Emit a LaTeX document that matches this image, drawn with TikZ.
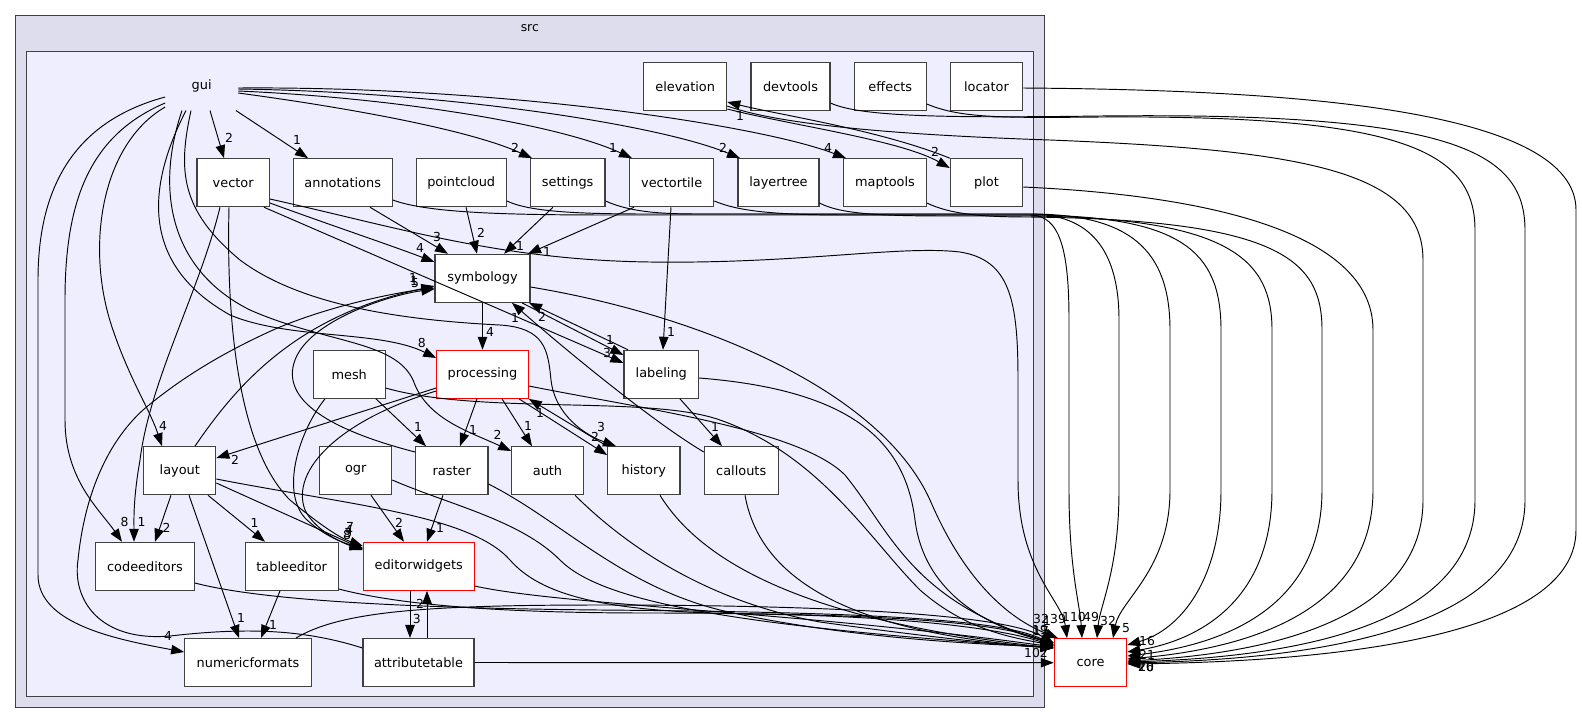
\documentclass[tikz,border=0pt]{standalone}
\usepackage{fontspec}
\setmainfont{DejaVu Sans}
\usepackage{tikz}
\usetikzlibrary{arrows.meta}

\definecolor{boxgray}{HTML}{404040}
\definecolor{srcfill}{HTML}{DDDDEE}
\definecolor{guifill}{HTML}{EEEEFF}

\tikzset{
  dirnode/.style={draw=boxgray, fill=white, line width=1.1pt, minimum height=48pt,
    inner sep=0pt, font=\fontsize{12.9}{15}\selectfont},
  reddir/.style={dirnode, draw=red},
  dep/.style={-{Triangle[length=13pt,width=9.5pt]}, line width=0.95pt},
  cnt/.style={inner sep=0pt, font=\fontsize{12.4}{14}\selectfont},
}

\begin{document}
\begin{tikzpicture}[x=1pt,y=-1pt]
  \useasboundingbox (0,0) rectangle (1582,724);
  % clusters
  \draw[boxgray, fill=srcfill, line width=1.4pt] (15.3,15.7) rectangle (1044.3,707.7);
  \node[cnt] (src) at (529.8,28) {src};
  \draw[boxgray, fill=guifill, line width=1.4pt] (26.4,51.7) rectangle (1033.3,696.7);
  \node[dirnode, draw=none, fill=none, minimum width=72pt] (gui) at (201.7,86) {gui};

  % directories
  \node[dirnode, minimum width=83pt] (elevation) at (685.2,86.7) {elevation};
  \node[dirnode, minimum width=79pt] (devtools) at (790.5,86.7) {devtools};
  \node[dirnode, minimum width=72pt] (effects) at (890.3,86.7) {effects};
  \node[dirnode, minimum width=72.4pt] (locator) at (986.5,86.7) {locator};
  \node[dirnode, minimum width=72.4pt] (vector) at (233.2,182.7) {vector};
  \node[dirnode, minimum width=99.2pt] (annotations) at (342.7,182.7) {annotations};
  \node[dirnode, minimum width=90.3pt] (pointcloud) at (461.2,182.7) {pointcloud};
  \node[dirnode, minimum width=74.6pt] (settings) at (567.7,182.7) {settings};
  \node[dirnode, minimum width=84pt] (vectortile) at (671.7,182.7) {vectortile};
  \node[dirnode, minimum width=81pt] (layertree) at (778.5,182.7) {layertree};
  \node[dirnode, minimum width=82.6pt] (maptools) at (885,182.7) {maptools};
  \node[dirnode, minimum width=72.4pt] (plot) at (986.5,182.7) {plot};
  \node[dirnode, minimum width=95pt] (symbology) at (482.5,278.3) {symbology};
  \node[reddir, minimum width=91.6pt] (processing) at (482.5,374.3) {processing};
  \node[dirnode, minimum width=74.7pt] (labeling) at (661.3,374.3) {labeling};
  \node[dirnode, minimum width=71.7pt] (mesh) at (349.2,374.3) {mesh};
  \node[dirnode, minimum width=72pt] (layout) at (179.8,470.7) {layout};
  \node[dirnode, minimum width=72pt] (ogr) at (355.7,470.7) {ogr};
  \node[dirnode, minimum width=72.3pt] (raster) at (451.8,470.7) {raster};
  \node[dirnode, minimum width=71.7pt] (auth) at (547.5,470.7) {auth};
  \node[dirnode, minimum width=72.3pt] (history) at (643.8,470.7) {history};
  \node[dirnode, minimum width=73.7pt] (callouts) at (741.2,470.7) {callouts};
  \node[dirnode, minimum width=98.7pt] (codeeditors) at (145,566.3) {codeeditors};
  \node[dirnode, minimum width=93.1pt] (tableeditor) at (291.7,566.3) {tableeditor};
  \node[reddir, minimum width=110.7pt] (editorwidgets) at (418.7,566.3) {editorwidgets};
  \node[dirnode, minimum width=126.6pt] (numericformats) at (248,662.5) {numericformats};
  \node[dirnode, minimum width=111pt] (attributetable) at (418.5,662.5) {attributetable};
  \node[reddir, minimum width=72.4pt] (core) at (1090.5,662.7) {core};

  % gui
  \draw[dep] (gui.south -| 210,0) -- (vector.north -| 224,0);
  \node[cnt] (k1) at (229,138) {2};
  \draw[dep] (gui.south -| 236,0) -- (annotations.north -| 308,0);
  \node[cnt] (k2) at (297,140) {1};
  \draw[dep] (gui.east |- 0,93) .. controls (350,108) and (470,130) .. (settings.north -| 532,0);
  \node[cnt] (k3) at (515,148) {2};
  \draw[dep] (gui.east |- 0,91) .. controls (400,98) and (560,125) .. (vectortile.north -| 632,0);
  \node[cnt] (k4) at (613,148) {1};
  \draw[dep] (gui.east |- 0,89) .. controls (450,92) and (660,125) .. (layertree.north -| 740,0);
  \node[cnt] (k5) at (723,148) {2};
  \draw[dep] (gui.east |- 0,88) .. controls (500,86) and (760,125) .. (maptools.north -| 846,0);
  \node[cnt] (k6) at (828,148) {4};
  \draw[dep] (gui.west |- 0,97) .. controls (80,120) and (38,180) .. (38,280) -- (38,575)
    .. controls (38,625) and (120,640) .. (numericformats.west |- 0,652);
  \node[cnt] (k7) at (168,636) {4};
  \draw[dep] (gui.west |- 0,103) .. controls (90,135) and (65,200) .. (65,300) -- (65,420)
    .. controls (65,480) and (100,510) .. (codeeditors.north -| 122,0);
  \node[cnt] (k8) at (124.5,522) {8};
  \draw[dep] (gui.west |- 0,107) .. controls (100,145) and (85,250) .. (113,330)
    .. controls (130,380) and (150,410) .. (layout.north -| 162,0);
  \node[cnt] (k9) at (163,426) {4};
  \draw[dep] (gui.south -| 182,0) .. controls (155,190) and (170,270) .. (250,310)
    .. controls (330,345) and (400,340) .. (415,385) .. controls (430,420) and (470,432) .. (auth.west |- 0,451);
  \node[cnt] (k10) at (497.5,435) {2};
  \draw[dep] (gui.south -| 186,0) .. controls (140,200) and (150,270) .. (230,315)
    .. controls (290,340) and (380,330) .. (processing.west |- 0,358);
  \node[cnt] (k11) at (421.7,343) {8};
  \draw[dep] (gui.south -| 191,0) .. controls (178,170) and (180,210) .. (240,260)
    .. controls (300,305) and (400,320) .. (500,325) .. controls (545,328) and (548,350) .. (551,380)
    .. controls (555,415) and (585,435) .. (history.north -| 616,0);
  \node[cnt] (k12) at (601,427) {3};

  % vector
  \draw[dep] (vector.east |- 0,203) .. controls (330,225) and (390,245) .. (symbology.west |- 0,262);
  \node[cnt] (k13) at (420,248) {4};
  \draw[dep] (vector.south -| 264,0) -- (labeling.west |- 0,363);
  \node[cnt] (k14) at (607,353) {3};
  \draw[dep] (vector.south -| 220,0) .. controls (200,290) and (150,380) .. (140,460)
    .. controls (133,500) and (134,520) .. (codeeditors.north -| 134,0);
  \node[cnt] (k15) at (141.6,522) {1};
  \draw[dep] (vector.south -| 229,0) .. controls (226,330) and (240,450) .. (290,500)
    .. controls (320,525) and (340,538) .. (editorwidgets.west |- 0,546);
  \draw[dep] (vector.east |- 0,199) .. controls (400,228) and (500,260) .. (650,262)
    .. controls (800,264) and (900,245) .. (960,252) .. controls (1010,260) and (1018,300) .. (1018,380)
    -- (1018,480) .. controls (1018,570) and (1062,600) .. (core.north -| 1067,0);

  % second row
  \draw[dep] (annotations.south -| 370,0) -- (symbology.north -| 448,0);
  \node[cnt] (k16) at (437,237) {3};
  \draw[dep] (annotations.east |- 0,200) .. controls (430,214) and (520,215) .. (620,215) -- (1030,215)
    .. controls (1060,215) and (1069,250) .. (1069,320) -- (1069,490)
    .. controls (1069,570) and (1080,605) .. (core.north -| 1082,0);
  \draw[dep] (pointcloud.south -| 466,0) -- (symbology.north -| 477,0);
  \node[cnt] (k17) at (481,233) {2};
  \draw[dep] (pointcloud.east |- 0,201) .. controls (530,212) and (580,214) .. (650,214) -- (1030,214)
    .. controls (1090,214) and (1119,250) .. (1119,320) -- (1119,490)
    .. controls (1119,570) and (1100,605) .. (core.north -| 1097,0);
  \draw[dep] (settings.south -| 553,0) -- (symbology.north -| 504,0);
  \node[cnt] (k18) at (520,246) {1};
  \draw[dep] (settings.east |- 0,201) .. controls (630,212) and (660,214) .. (700,214) -- (1030,214)
    .. controls (1130,214) and (1170,250) .. (1170,330) -- (1170,490)
    .. controls (1170,570) and (1120,600) .. (core.north -| 1113,0);
  \draw[dep] (vectortile.south -| 634,0) -- (symbology.north -| 528,0);
  \node[cnt] (k19) at (547,252) {1};
  \draw[dep] (vectortile.south -| 671,0) -- (labeling.north -| 663,0);
  \node[cnt] (k20) at (671,332) {1};
  \draw[dep] (vectortile.east |- 0,201) .. controls (740,212) and (780,215) .. (850,215) -- (1030,215)
    .. controls (1180,216) and (1221,250) .. (1221,330) -- (1221,490)
    .. controls (1221,580) and (1180,630) .. (core.east |- 0,645);
  \draw[dep] (layertree.east |- 0,203) .. controls (840,214) and (880,216) .. (950,216) -- (1030,216)
    .. controls (1230,218) and (1272,260) .. (1272,330) -- (1272,490)
    .. controls (1272,600) and (1200,640) .. (core.east |- 0,652);
  \draw[dep] (maptools.east |- 0,203) .. controls (950,214) and (980,217) .. (1030,217)
    .. controls (1280,220) and (1322,260) .. (1322,330) -- (1322,490)
    .. controls (1322,610) and (1220,645) .. (core.east |- 0,656);
  \draw[dep] (plot.east |- 0,187) .. controls (1200,195) and (1373,230) .. (1373,330) -- (1373,490)
    .. controls (1373,620) and (1230,650) .. (core.east |- 0,659);

  % top row
  \draw[dep] (plot.north west) .. controls (880,130) and (780,115) .. (elevation.east |- 0,102);
  \node[cnt] (k21) at (740,116) {1};
  \draw[dep] (elevation.east |- 0,109) .. controls (790,125) and (900,140) .. (plot.west |- 0,168);
  \node[cnt] (k22) at (935,152) {2};
  \draw[dep] (elevation.east |- 0,106) .. controls (780,125) and (900,135) .. (1050,140)
    .. controls (1300,150) and (1423,170) .. (1423,260) -- (1423,500)
    .. controls (1423,630) and (1240,655) .. (core.east |- 0,661);
  \draw[dep] (effects.east |- 0,104) .. controls (960,118) and (1000,118) .. (1100,117)
    .. controls (1400,115) and (1475,150) .. (1475,230) -- (1475,500)
    .. controls (1475,640) and (1250,658) .. (core.east |- 0,662);
  \draw[dep] (devtools.east |- 0,103) .. controls (860,117) and (950,118) .. (1100,116)
    .. controls (1450,112) and (1525,150) .. (1525,230) -- (1525,500)
    .. controls (1525,645) and (1260,660) .. (core.east |- 0,663);
  \draw[dep] (locator.east |- 0,88) .. controls (1300,90) and (1576,110) .. (1576,210) -- (1576,530)
    .. controls (1576,650) and (1270,662) .. (core.east |- 0,664);

  % symbology, labeling, processing
  \draw[dep] (symbology.south) -- (processing.north);
  \node[cnt] (k23) at (490,332) {4};
  \draw[dep] (symbology.south -| 522,0) -- (labeling.west |- 0,355);
  \node[cnt] (k24) at (610,340) {1};
  \draw[dep] (labeling.north -| 628,0) -- (symbology.south -| 529,0);
  \node[cnt] (k25) at (542,317) {2};
  \draw[dep] (callouts.west |- 0,452) .. controls (650,420) and (560,345) .. (symbology.south -| 512,0);
  \node[cnt] (k26) at (515,318) {1};
  \draw[dep] (symbology.east |- 0,287) .. controls (700,315) and (880,390) .. (930,500)
    .. controls (960,570) and (1000,615) .. (core.north -| 1058,0);
  \draw[dep] (processing.west |- 0,388) -- (layout.east |- 0,458);
  \node[cnt] (k27) at (235,460) {2};
  \draw[dep] (processing.west |- 0,391) .. controls (340,420) and (290,470) .. (305,510)
    .. controls (315,530) and (340,542) .. (editorwidgets.west |- 0,550);
  \draw[dep] (processing.south -| 477,0) -- (raster.north -| 460,0);
  \node[cnt] (k28) at (473,430) {1};
  \draw[dep] (processing.south -| 502,0) -- (auth.north -| 532,0);
  \node[cnt] (k29) at (528,426) {1};
  \draw[dep] (processing.south -| 519,0) -- (history.west |- 0,455);
  \node[cnt] (k30) at (595,437) {2};
  \draw[dep] (history.north west) -- (processing.south east);
  \node[cnt] (k31) at (540,413) {1};
  \draw[dep] (processing.east |- 0,386) .. controls (650,410) and (800,430) .. (845,475)
    .. controls (890,530) and (910,600) .. (core.west |- 0,644);
  \draw[dep] (labeling.south -| 680,0) -- (callouts.north -| 722,0);
  \node[cnt] (k32) at (715,427) {1};
  \draw[dep] (labeling.east |- 0,378) .. controls (850,390) and (905,440) .. (915,520)
    .. controls (925,600) and (1000,630) .. (core.west |- 0,643);

  % mesh, raster, ogr, auth, history, callouts
  \draw[dep] (mesh.south -| 376,0) -- (raster.north -| 426,0);
  \node[cnt] (k33) at (418,427) {1};
  \draw[dep] (mesh.south -| 325,0) .. controls (300,430) and (280,490) .. (305,518)
    .. controls (320,533) and (340,542) .. (editorwidgets.west |- 0,548);
  \draw[dep] (mesh.east |- 0,388) .. controls (480,415) and (650,395) .. (720,420)
    .. controls (820,455) and (870,540) .. (920,590) .. controls (960,625) and (1000,636) .. (core.west |- 0,645);
  \draw[dep] (raster.west |- 0,452) .. controls (330,430) and (280,400) .. (295,360)
    .. controls (310,320) and (390,295) .. (symbology.west |- 0,289);
  \draw[dep] (raster.south -| 443,0) -- (editorwidgets.north -| 427,0);
  \node[cnt] (k34) at (440,528) {1};
  \draw[dep] (raster.east |- 0,484) .. controls (560,520) and (620,585) .. (720,610)
    .. controls (850,640) and (1000,645) .. (core.west |- 0,647);
  \draw[dep] (ogr.south -| 371,0) -- (editorwidgets.north -| 404,0);
  \node[cnt] (k35) at (399,523) {2};
  \draw[dep] (ogr.east |- 0,480) .. controls (450,505) and (520,520) .. (560,560)
    .. controls (600,600) and (720,625) .. (core.west |- 0,648);
  \draw[dep] (auth.south -| 575,0) .. controls (620,540) and (700,600) .. (820,622)
    .. controls (950,640) and (1010,645) .. (core.west |- 0,648);
  \draw[dep] (history.south -| 660,0) .. controls (700,560) and (800,620) .. (core.west |- 0,648);
  \draw[dep] (callouts.south -| 745,0) .. controls (760,580) and (850,632) .. (core.west |- 0,648);

  % layout
  \draw[dep] (layout.north -| 195,0) .. controls (240,380) and (300,315) .. (symbology.west |- 0,286);
  \node[cnt] (k36) at (413,278) {1};
  \node[cnt] (k37) at (415,283) {5};
  \node[cnt] (k38) at (414,281) {1};
  \draw[dep] (layout.south -| 171,0) -- (codeeditors.north -| 155,0);
  \node[cnt] (k39) at (166.5,528) {2};
  \draw[dep] (layout.south -| 189,0) -- (numericformats.north -| 239,0);
  \node[cnt] (k40) at (241,618) {1};
  \draw[dep] (layout.south -| 208,0) -- (tableeditor.north -| 265,0);
  \node[cnt] (k41) at (254.5,523) {1};
  \draw[dep] (layout.east |- 0,483) -- (editorwidgets.west |- 0,549);
  \node[cnt] (k42) at (350,527) {7};
  \node[cnt] (k43) at (349,530) {4};
  \node[cnt] (k44) at (348,533) {3};
  \node[cnt] (k45) at (347,535) {8};
  \draw[dep] (layout.east |- 0,479) .. controls (350,505) and (470,515) .. (510,560)
    .. controls (545,600) and (620,612) .. (750,614) .. controls (900,616) and (1000,628) .. (core.west |- 0,646);

  % bottom rows
  \draw[dep] (tableeditor.south -| 280,0) -- (numericformats.north -| 261,0);
  \node[cnt] (k46) at (273,625) {1};
  \draw[dep] (tableeditor.east |- 0,589) .. controls (400,605) and (500,613) .. (650,613)
    .. controls (850,613) and (1000,620) .. (core.west |- 0,646);
  \draw[dep] (codeeditors.east |- 0,583) .. controls (260,600) and (400,608) .. (600,610)
    .. controls (850,612) and (1000,618) .. (core.west |- 0,645);
  \draw[dep] (editorwidgets.south -| 410,0) -- (attributetable.north -| 410,0);
  \node[cnt] (k47) at (416.7,619) {3};
  \draw[dep] (attributetable.north -| 427,0) -- (editorwidgets.south -| 427,0);
  \node[cnt] (k48) at (420,604) {2};
  \draw[dep] (editorwidgets.east |- 0,586) .. controls (560,605) and (800,612) .. (core.west |- 0,647);
  \draw[dep] (numericformats.north -| 296,0) .. controls (340,612) and (420,605) .. (600,605)
    .. controls (800,605) and (1000,612) .. (core.west |- 0,643);
  \draw[dep] (attributetable.west |- 0,648) .. controls (300,628) and (240,628) .. (170,636)
    .. controls (100,642) and (72,600) .. (78,560) .. controls (85,490) and (110,440) .. (143,410)
    .. controls (190,370) and (240,345) .. (273,330) .. controls (330,305) and (400,292) .. (symbology.west |- 0,288);
  \draw[dep] (attributetable.east) -- (core.west);
  \node[cnt] (k49) at (1036,653) {102};

  % counts at core
  \node[cnt] (k50) at (1041,619) {32};
  \node[cnt] (k51) at (1047,621) {1};
  \node[cnt] (k52) at (1058,619) {39};
  \node[cnt] (k53) at (1074,617) {110};
  \node[cnt] (k54) at (1091,617) {49};
  \node[cnt] (k55) at (1108,621) {32};
  \node[cnt] (k56) at (1126,628) {5};
  \node[cnt] (k57) at (1040,630) {19};
  \node[cnt] (k58) at (1041,631) {17};
  \node[cnt] (k59) at (1147,641) {16};
  \node[cnt] (k60) at (1147,655) {21};
  \node[cnt] (k61) at (1146,667) {20};
  \node[cnt] (k62) at (1146,667) {26};
  \node[cnt] (k63) at (1146,667) {10};
\end{tikzpicture}
\end{document}
